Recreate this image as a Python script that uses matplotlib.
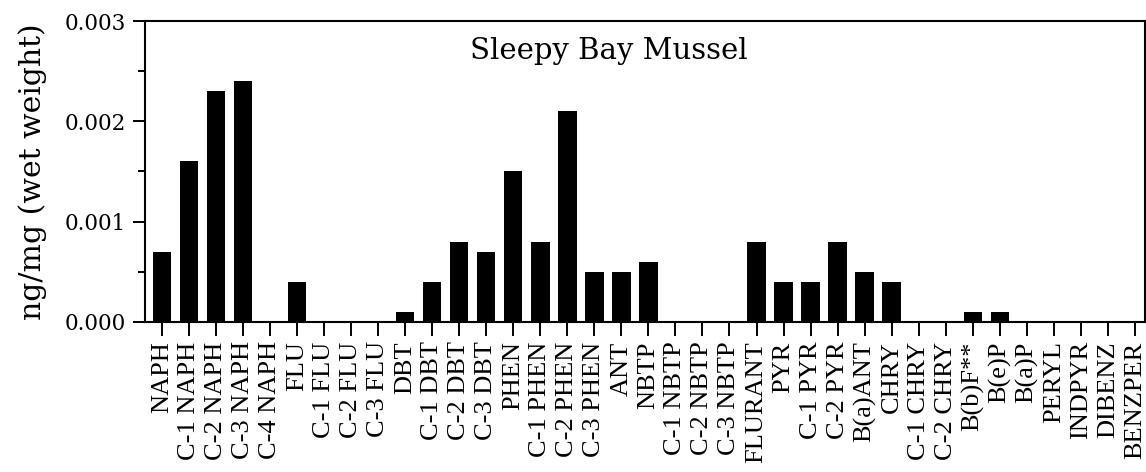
import numpy as np
import matplotlib
matplotlib.use('Agg')
import matplotlib.pyplot as plt
from matplotlib.ticker import MultipleLocator

compounds = ['NAPH', 'C-1 NAPH', 'C-2 NAPH', 'C-3 NAPH', 'C-4 NAPH', 'FLU',
             'C-1 FLU', 'C-2 FLU', 'C-3 FLU', 'DBT', 'C-1 DBT', 'C-2 DBT',
             'C-3 DBT', 'PHEN', 'C-1 PHEN', 'C-2 PHEN', 'C-3 PHEN', 'ANT',
             'NBTP', 'C-1 NBTP', 'C-2 NBTP', 'C-3 NBTP', 'FLURANT', 'PYR',
             'C-1 PYR', 'C-2 PYR', 'B(a)ANT', 'CHRY', 'C-1 CHRY', 'C-2 CHRY',
             'B(b)F**', 'B(e)P', 'B(a)P', 'PERYL', 'INDPYR', 'DIBENZ', 'BENZPER']
conc = [0.0007, 0.0016, 0.0023, 0.0024, 0.0, 0.0004,
        0.0, 0.0, 0.0, 0.0001, 0.0004, 0.0008,
        0.0007, 0.0015, 0.0008, 0.0021, 0.0005, 0.0005,
        0.0006, 0.0, 0.0, 0.0, 0.0008, 0.0004,
        0.0004, 0.0008, 0.0005, 0.0004, 0.0, 0.0,
        0.0001, 0.0001, 0.0, 0.0, 0.0, 0.0, 0.0]

plt.rcParams['font.family'] = 'Liberation Serif'
serif2 = 'DejaVu Serif'

fig = plt.figure(figsize=(11.46, 4.72), dpi=100)
ax = fig.add_axes([0.1265, 0.318, 0.8725, 0.6375])

x = np.arange(len(compounds))
ax.bar(x, conc, width=0.68, color='black')

ax.set_xlim(-0.63, 36.37)
ax.set_ylim(0, 0.003)
ax.set_xticks(x)
ax.set_xticklabels(compounds, rotation=90, fontsize=19)
ax.set_yticks([0, 0.001, 0.002, 0.003])
ax.set_yticklabels(['0.000', '0.001', '0.002', '0.003'], fontsize=15.5,
                   family=serif2)
ax.yaxis.set_minor_locator(MultipleLocator(0.0005))
ax.tick_params(axis='x', direction='out', length=10, width=1.4, pad=4)
ax.tick_params(axis='y', which='major', direction='out', length=9, width=1.4, pad=5)
ax.tick_params(axis='y', which='minor', direction='out', length=5, width=1.4)
for s in ax.spines.values():
    s.set_linewidth(1.5)

ax.set_ylabel('ng/mg (wet weight)', fontsize=21.5, family=serif2, labelpad=12)
ax.text(0.464, 0.90, 'Sleepy Bay Mussel', transform=ax.transAxes,
        ha='center', va='center', fontsize=21, family=serif2)

fig.savefig('out.png', dpi=100)
